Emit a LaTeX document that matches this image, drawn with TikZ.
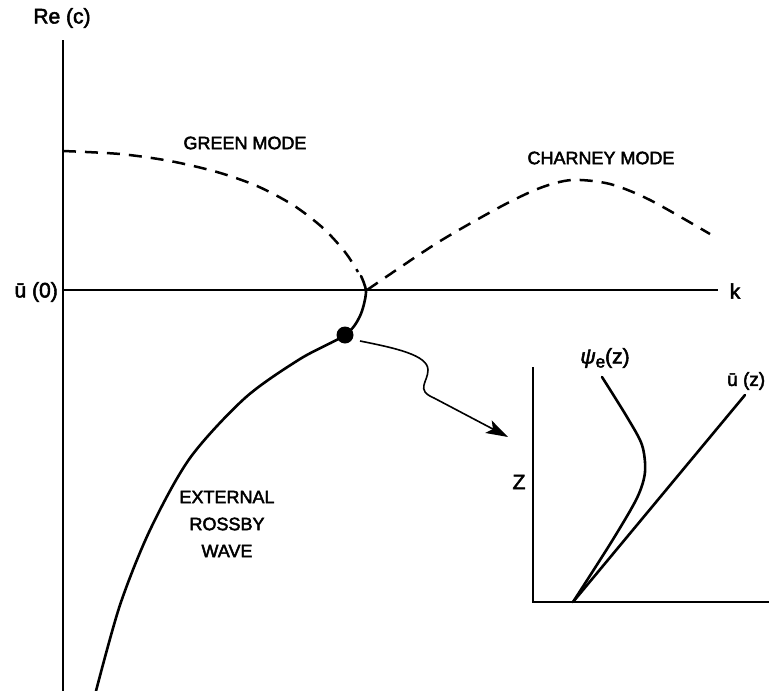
\documentclass[tikz,border=0pt]{standalone}
\usepackage{fontspec}
\setmainfont{Liberation Sans}[FakeBold=2.5]
\usetikzlibrary{arrows.meta}
\begin{document}
\begin{tikzpicture}[x=1pt,y=-1pt,
  curve/.style={line width=2.6pt,line cap=round},
  dashcurve/.style={line width=2.5pt,dash pattern=on 13pt off 9pt},
  axis/.style={line width=2.1pt},
  lbl/.style={inner sep=0pt,font=\fontsize{18}{27}\selectfont,align=center},
  biglbl/.style={inner sep=0pt,font=\fontsize{21}{24}\selectfont}]
\useasboundingbox (0,0) rectangle (769,691);
\begin{scope}
\clip (0,0) rectangle (769,691);
% main axes
\coordinate (ytop) at (63,40);
\coordinate (ybot) at (63,691);
\coordinate (origin) at (63,290);
\coordinate (xend) at (718,290);
\draw[axis] (ytop) -- (ybot);
\draw[axis] (origin) -- (xend);
\node[biglbl] (re) at (62,18) {Re (c)};
\node[biglbl,anchor=east] (u0) at (58,292) {ū (0)};
\node[biglbl] (k) at (735,291) {k};
% green mode
\draw[dashcurve] plot[smooth] coordinates {(63,151) (120,154) (170,161) (217,172) (257,186) (293,205) (323,228) (345,252) (358,272)};
\node[lbl] (green) at (245,143) {GREEN MODE};
% charney mode
\draw[dashcurve] plot[smooth] coordinates {(367,290) (437,243) (500,207) (540,188) (572,180) (610,184) (650,200) (710,234)};
\node[lbl] (charney) at (601,158) {CHARNEY MODE};
% external rossby wave
\draw[curve] plot[smooth] coordinates {(361,276) (366,292) (360,316) (345,335) (300,359) (245,398) (190,458) (150,530) (120,605) (96,691)};
\coordinate (dotc) at (345,335);
\fill (dotc) circle (8.5pt);
\node[lbl] (erw) at (227,524) {EXTERNAL\\ROSSBY\\WAVE};
% wavy arrow
\coordinate (astart) at (360,341);
\coordinate (atip) at (508,437);
\draw[line width=1.6pt,-{Stealth[length=22pt,width=14pt,inset=5pt]}] (astart) .. controls (395,348) and (428,355) .. (428,370) .. controls (428,382) and (415,390) .. (434,398) -- (atip);
% inset
\coordinate (itop) at (533,367);
\coordinate (iorig) at (533,602);
\coordinate (iend) at (769,602);
\draw[axis] (itop) -- (iorig) -- (iend);
\node[biglbl] (z) at (519,482) {Z};
\coordinate (ubase) at (573,602);
\coordinate (utop) at (745,395);
\draw[curve] (ubase) -- (utop);
\node[inner sep=0pt,font=\fontsize{19}{22}\selectfont,anchor=west] (uz) at (727,381) {ū (z)};
\draw[curve] plot[smooth] coordinates {(602,377) (627,417) (642,445) (645,472) (637,498) (612,541) (573,602)};
\node[biglbl] (psi) at (605,358) {\textit{ψ}\raisebox{-4pt}{\fontsize{17}{18}\selectfont e}(z)};
\end{scope}
\end{tikzpicture}
\end{document}
